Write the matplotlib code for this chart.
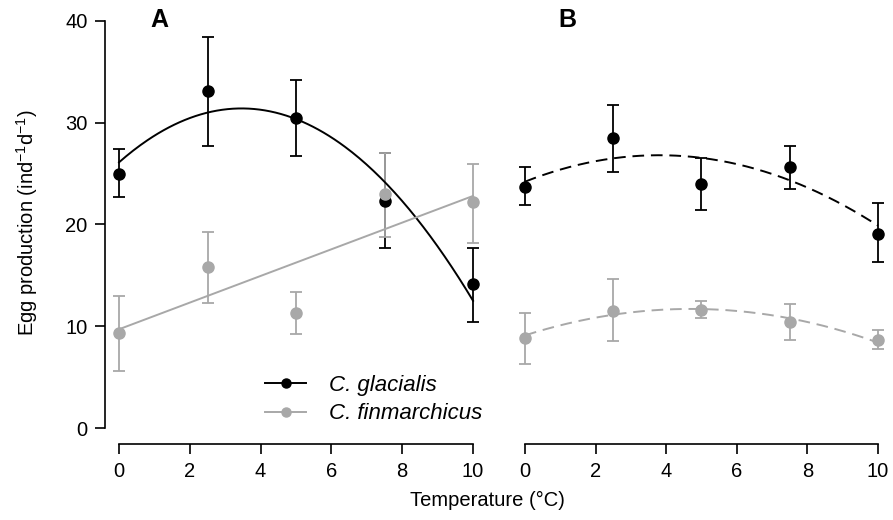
import numpy as np
import matplotlib
matplotlib.use("Agg")
import matplotlib.pyplot as plt

plt.rcParams['font.family'] = ['Liberation Sans', 'DejaVu Sans']
plt.rcParams['mathtext.fontset'] = 'custom'
plt.rcParams['mathtext.rm'] = 'Liberation Sans'

temp = [0, 2.5, 5, 7.5, 10]

# panel A (means, upper and lower error limits)
glac_a = [25.0, 33.1, 30.5, 22.3, 14.1]
glac_a_hi = [27.4, 38.4, 34.2, 27.0, 17.7]
glac_a_lo = [22.7, 27.7, 26.7, 17.7, 10.4]
finm_a = [9.3, 15.8, 11.3, 23.0, 22.2]
finm_a_hi = [13.0, 19.3, 13.4, 27.0, 25.9]
finm_a_lo = [5.6, 12.3, 9.2, 18.8, 18.2]

# panel B
glac_b = [23.7, 28.5, 24.0, 25.6, 19.1]
glac_b_hi = [25.6, 31.7, 26.5, 27.7, 22.1]
glac_b_lo = [21.9, 25.2, 21.4, 23.5, 16.3]
finm_b = [8.85, 11.5, 11.6, 10.4, 8.65]
finm_b_hi = [11.3, 14.6, 12.5, 12.2, 9.6]
finm_b_lo = [6.3, 8.5, 10.8, 8.65, 7.8]

# fitted curves: coefficients (constant, linear, quadratic)
fit_glac_a = [26.1, 3.06, -0.442]
fit_finm_a = [9.7, 1.31, 0.0]
fit_glac_b = [24.2, 1.368, -0.18]
fit_finm_b = [9.1, 1.106, -0.1177]

grey = '#a8a8a8'
fs = 14.5

fig = plt.figure(figsize=(8.93, 5.2), dpi=100)
axA = fig.add_axes([0.1174, 0.1456, 0.4282, 0.8456])
axB = fig.add_axes([0.5721, 0.1456, 0.4269, 0.8456])

xs = np.linspace(0, 10, 200)


def curve(c):
    return c[0] + c[1] * xs + c[2] * xs ** 2


def points(ax, y, hi, lo, col):
    y = np.array(y)
    err = [y - np.array(lo), np.array(hi) - y]
    ax.errorbar(temp, y, yerr=err, fmt='o', color=col, ms=8, capsize=4,
                elinewidth=1.3, capthick=1.3, zorder=3)


points(axA, glac_a, glac_a_hi, glac_a_lo, 'black')
points(axA, finm_a, finm_a_hi, finm_a_lo, grey)
axA.plot(xs, curve(fit_glac_a), color='black', lw=1.4, zorder=4)
axA.plot(xs, curve(fit_finm_a), color=grey, lw=1.4, zorder=4)

points(axB, glac_b, glac_b_hi, glac_b_lo, 'black')
points(axB, finm_b, finm_b_hi, finm_b_lo, grey)
axB.plot(xs, curve(fit_glac_b), color='black', lw=1.4, ls=(0, (6, 3.5)), zorder=4)
axB.plot(xs, curve(fit_finm_b), color=grey, lw=1.4, ls=(0, (6, 3.5)), zorder=4)

for ax in (axA, axB):
    ax.set_xlim(-0.4, 10.4)
    ax.set_ylim(-1.6, 41.6)
    ax.patch.set_visible(False)
    for s in ('top', 'right'):
        ax.spines[s].set_visible(False)
    ax.spines['bottom'].set_bounds(0, 10)
    ax.spines['bottom'].set_linewidth(1.2)
    ax.spines['left'].set_linewidth(1.2)
    ax.set_xticks([0, 2, 4, 6, 8, 10])
    ax.tick_params(direction='out', length=7.5, width=1.2, labelsize=fs, pad=5)

axA.spines['left'].set_bounds(0, 40)
axA.set_yticks([0, 10, 20, 30, 40])
axB.spines['left'].set_visible(False)
axB.set_yticks([])

fig.text(27 / 893, 297 / 520, 'Egg production (ind$^{-1}$d$^{-1}$)', rotation=90,
         ha='center', va='center', fontsize=fs)
fig.text(487 / 893, 20 / 520, 'Temperature (°C)', ha='center', va='center', fontsize=fs)

axA.text(1.15, 40.1, 'A', fontsize=18, fontweight='bold', ha='center', va='center')
axB.text(1.2, 40.1, 'B', fontsize=18, fontweight='bold', ha='center', va='center')

h1, = axA.plot([], [], 'o-', color='black', ms=6.5, lw=1.4)
h2, = axA.plot([], [], 'o-', color=grey, ms=6.5, lw=1.4)
leg = axA.legend([h1, h2], ['C. glacialis', 'C. finmarchicus'], loc='lower left',
                 bbox_to_anchor=(0.367, 0.0), frameon=False, handlelength=1.85,
                 handletextpad=1.0, prop={'style': 'italic', 'size': 16},
                 labelspacing=0.35)

fig.savefig('out.png', dpi=100)
